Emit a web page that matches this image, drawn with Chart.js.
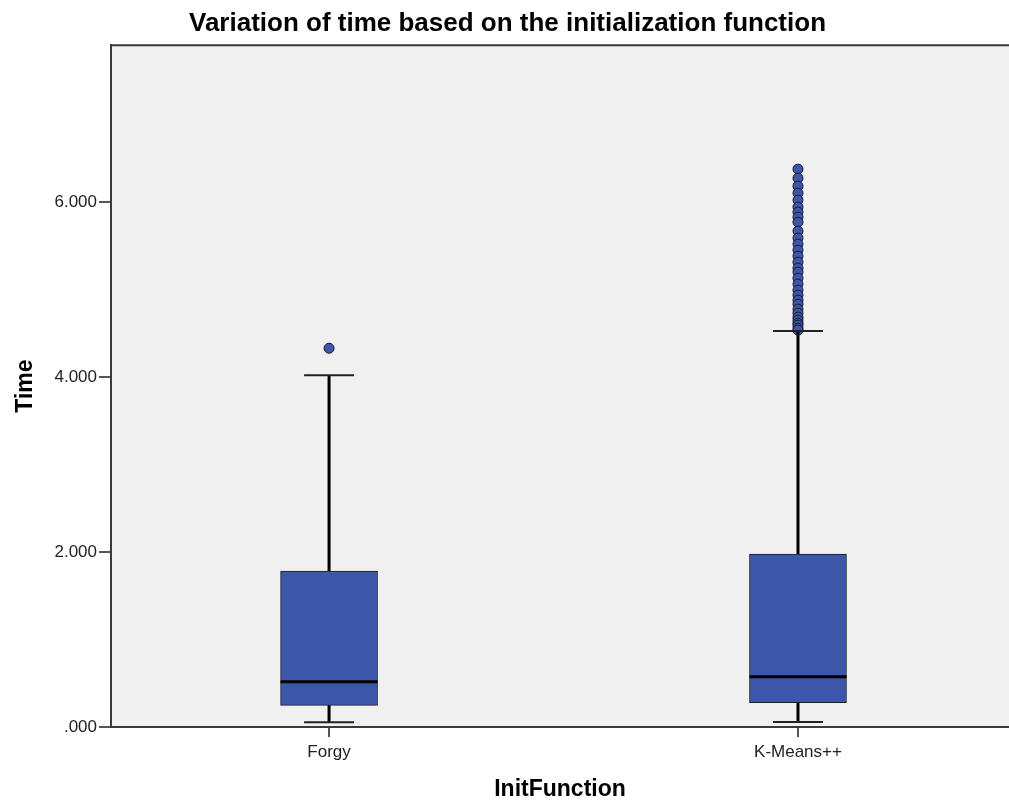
<!DOCTYPE html>
<html>
<head>
<meta charset="utf-8">
<script src="https://cdn.jsdelivr.net/npm/chart.js@4.4.1/dist/chart.umd.min.js"></script>
<style>
  html, body { margin: 0; padding: 0; background: #fff; overflow: hidden; }
  #wrap { width: 1015px; height: 807px; position: relative; }
</style>
</head>
<body>
<div id="wrap"><canvas id="boxChart"></canvas></div>
<script>
// data
const categories = ['Forgy', 'K-Means++'];
const q1 = [0.248, 0.278];
const median = [0.518, 0.575];
const q3 = [1.783, 1.977];
const whiskerLow = [0.054, 0.057];
const whiskerHigh = [4.02, 4.526];
const outliersForgy = [4.33];
const outliersKMeans = [6.377, 6.274, 6.183, 6.103, 6.023, 5.943, 5.886, 5.829, 5.771, 5.669,
  5.589, 5.520, 5.451, 5.383, 5.314, 5.246, 5.200, 5.131, 5.063, 4.994, 4.937, 4.880, 4.834,
  4.777, 4.731, 4.686, 4.651, 4.617, 4.594, 4.560, 4.537];
const yTicks = [0, 2, 4, 6];
const yTickLabels = ['.000', '2.000', '4.000', '6.000'];

const boxColor = '#3c57a9';
const font = 'Liberation Sans, Arial, sans-serif';

const boxData = categories.map((c, i) => ({ x: i, y: [q1[i], q3[i]] }));
const outlierData = [];
outliersForgy.forEach(v => outlierData.push({ x: 0, y: v }));
outliersKMeans.forEach(v => outlierData.push({ x: 1, y: v }));

// plot background + top frame line
const framePlugin = {
  id: 'frame',
  beforeDraw(chart) {
    const a = chart.chartArea, ctx = chart.ctx;
    ctx.save();
    ctx.fillStyle = '#f0f0f0';
    ctx.fillRect(a.left, a.top, a.right - a.left, a.bottom - a.top);
    ctx.restore();
  },
  afterDraw(chart) {
    const a = chart.chartArea, ctx = chart.ctx;
    ctx.save();
    ctx.strokeStyle = '#3a3a3a';
    ctx.lineWidth = 2;
    ctx.beginPath();
    ctx.moveTo(a.left, a.top);
    ctx.lineTo(a.right, a.top);
    ctx.stroke();
    ctx.restore();
  }
};

// whiskers, caps and medians
const whiskerPlugin = {
  id: 'whiskers',
  afterDatasetsDraw(chart) {
    const xs = chart.scales.x, ys = chart.scales.y, ctx = chart.ctx;
    const boxMeta = chart.getDatasetMeta(0);
    ctx.save();
    categories.forEach((c, i) => {
      const cx = xs.getPixelForValue(i);
      const half = boxMeta.data[i].width / 2;
      ctx.strokeStyle = '#000';
      ctx.lineWidth = 3;
      ctx.beginPath();
      ctx.moveTo(cx, ys.getPixelForValue(q3[i]));
      ctx.lineTo(cx, ys.getPixelForValue(whiskerHigh[i]));
      ctx.moveTo(cx, ys.getPixelForValue(q1[i]));
      ctx.lineTo(cx, ys.getPixelForValue(whiskerLow[i]));
      ctx.stroke();
      ctx.lineWidth = 2;
      ctx.strokeStyle = '#222';
      ctx.beginPath();
      [whiskerHigh[i], whiskerLow[i]].forEach(v => {
        const y = ys.getPixelForValue(v);
        ctx.moveTo(cx - 25, y);
        ctx.lineTo(cx + 25, y);
      });
      ctx.stroke();
      ctx.lineWidth = 3;
      ctx.strokeStyle = '#000';
      ctx.beginPath();
      const my = ys.getPixelForValue(median[i]);
      ctx.moveTo(cx - half, my);
      ctx.lineTo(cx + half, my);
      ctx.stroke();
    });
    ctx.restore();
  }
};

const ctx = document.getElementById('boxChart').getContext('2d');
new Chart(ctx, {
  type: 'bar',
  data: {
    datasets: [
      {
        type: 'bar',
        data: boxData,
        backgroundColor: boxColor,
        borderColor: '#1e1e1e',
        borderWidth: 1,
        borderSkipped: false,
        barThickness: 97
      },
      {
        type: 'scatter',
        data: outlierData,
        pointRadius: 5,
        pointBackgroundColor: boxColor,
        pointBorderColor: '#1a1a2a',
        pointBorderWidth: 1
      }
    ]
  },
  options: {
    responsive: true,
    maintainAspectRatio: false,
    animation: false,
    layout: { padding: { left: 0, right: 0, top: 0, bottom: 0 } },
    plugins: {
      legend: { display: false },
      tooltip: { enabled: false },
      title: {
        display: true,
        text: 'Variation of time based on the initialization function',
        color: '#000',
        font: { family: font, size: 26, weight: 'bold', lineHeight: 1.2 },
        padding: { top: 8, bottom: 6 }
      }
    },
    scales: {
      x: {
        type: 'linear',
        offset: false,
        min: -0.465,
        max: 1.45,
        afterBuildTicks(scale) { scale.ticks = categories.map((c, i) => ({ value: i })); },
        afterFit(scale) { scale.height = 80; scale.paddingLeft = 0; scale.paddingRight = 0; },
        ticks: {
          callback: v => categories[v],
          color: '#222',
          padding: 5,
          maxRotation: 0,
          font: { family: font, size: 17 }
        },
        grid: { offset: false, drawOnChartArea: false, drawTicks: true, tickLength: 10, color: '#555', lineWidth: 2 },
        border: { display: true, color: '#3a3a3a', width: 2 },
        title: {
          display: true,
          text: 'InitFunction',
          color: '#000',
          padding: { top: 4, bottom: 4 },
          font: { family: font, size: 23, weight: 'bold' }
        }
      },
      y: {
        type: 'linear',
        min: 0,
        max: 7.794,
        afterBuildTicks(scale) { scale.ticks = yTicks.map(v => ({ value: v })); },
        afterFit(scale) { scale.width = 111; },
        ticks: {
          callback: v => yTickLabels[yTicks.indexOf(v)],
          color: '#222',
          padding: 2,
          font: { family: font, size: 17 }
        },
        grid: { drawOnChartArea: false, drawTicks: true, tickLength: 12, color: '#555', lineWidth: 2 },
        border: { display: true, color: '#3a3a3a', width: 2 },
        title: {
          display: true,
          text: 'Time',
          color: '#000',
          padding: { top: 12, bottom: 0 },
          font: { family: font, size: 23, weight: 'bold' }
        }
      }
    }
  },
  plugins: [framePlugin, whiskerPlugin]
});
</script>
</body>
</html>
